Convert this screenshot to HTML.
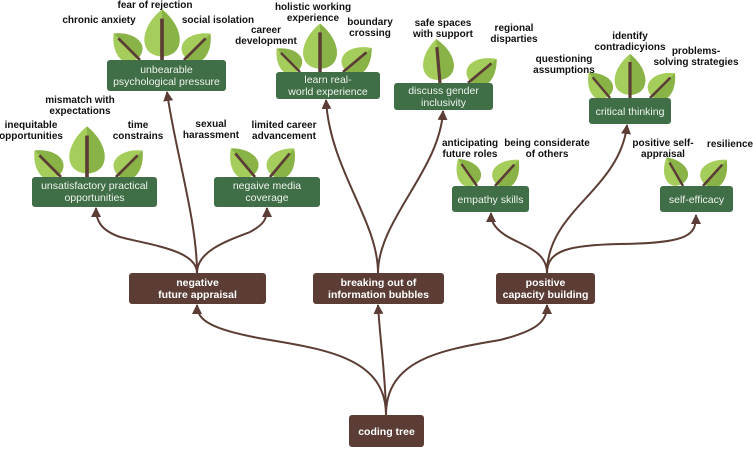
<!DOCTYPE html>
<html><head><meta charset="utf-8"><style>
html,body{margin:0;padding:0;background:#fff;}
svg{display:block;font-family:"Liberation Sans",sans-serif;}
.lb{font-size:10px;font-weight:bold;fill:#111;text-anchor:middle;}
.gt{font-size:10.5px;fill:#eef4ee;text-anchor:middle;}
.bt{font-size:10.5px;font-weight:bold;fill:#fff;text-anchor:middle;}
.c{fill:none;stroke:#5b3d35;stroke-width:2;}
</style></head><body>
<svg width="753" height="449" viewBox="0 0 753 449">
<defs>
<marker id="a" viewBox="0 0 10 10" refX="9" refY="5" markerWidth="5" markerHeight="5" orient="auto"><path d="M0,0 L10,5 L0,10 z" fill="#5b3d35"/></marker>
<g id="leaf">
<path d="M0,-3 C-21,-4 -20,-28 0,-44 C20,-28 21,-4 0,-3Z" fill="#a5cd5c"/>
<path d="M0,-3 C21,-4 20,-28 0,-44Z" fill="#8ab347"/>
<line x1="0" y1="0" x2="0" y2="-36" stroke="#5b3d35" stroke-width="3.2"/>
</g>
</defs>

<path class="c" marker-end="url(#a)" d="M386,415 C386,360 330,350 270,340 C210,330 197,320 197,305"/>
<path class="c" marker-end="url(#a)" d="M386,415 C386,380 380,340 378,305"/>
<path class="c" marker-end="url(#a)" d="M386,415 C386,360 440,350 500,340 C540,330 547,320 547,305"/>

<path class="c" marker-end="url(#a)" d="M197,273 C197,250 150,245 120,237 C100,230 96,220 96,208"/>
<path class="c" marker-end="url(#a)" d="M197,273 C197,250 230,240 250,232 C265,224 267,218 267,208"/>
<path class="c" marker-end="url(#a)" d="M197,273 C197,220 175,150 167,92"/>

<path class="c" marker-end="url(#a)" d="M378,273 C378,220 330,170 326,100"/>
<path class="c" marker-end="url(#a)" d="M378,273 C378,220 440,170 443,111"/>

<path class="c" marker-end="url(#a)" d="M547,273 C547,250 520,245 505,235 C493,227 491,220 491,213"/>
<path class="c" marker-end="url(#a)" d="M547,273 C547,210 620,190 627,125"/>
<path class="c" marker-end="url(#a)" d="M547,273 C547,250 570,245 620,244 C690,243 696,235 696,215"/>

<g transform="translate(140,60) rotate(-45) scale(0.85)"><use href="#leaf"/></g>
<g transform="translate(162,60) scale(1.15)"><use href="#leaf"/></g>
<g transform="translate(184,60) rotate(45) scale(0.85)"><use href="#leaf"/></g>

<g transform="translate(300,72) rotate(-45) scale(0.75)"><use href="#leaf"/></g>
<g transform="translate(320,72) scale(1.1)"><use href="#leaf"/></g>
<g transform="translate(343,72) rotate(50) scale(0.85)"><use href="#leaf"/></g>

<g transform="translate(61,177) rotate(-45) scale(0.85)"><use href="#leaf"/></g>
<g transform="translate(87,177) scale(1.15)"><use href="#leaf"/></g>
<g transform="translate(116,177) rotate(45) scale(0.85)"><use href="#leaf"/></g>

<g transform="translate(255,177) rotate(-40) scale(0.85)"><use href="#leaf"/></g>
<g transform="translate(270,177) rotate(40) scale(0.85)"><use href="#leaf"/></g>

<g transform="translate(440,83) rotate(-5) scale(1.0)"><use href="#leaf"/></g>
<g transform="translate(468,83) rotate(50) scale(0.85)"><use href="#leaf"/></g>

<g transform="translate(610,98) rotate(-40) scale(0.75)"><use href="#leaf"/></g>
<g transform="translate(630,98) scale(1.0)"><use href="#leaf"/></g>
<g transform="translate(650,98) rotate(45) scale(0.8)"><use href="#leaf"/></g>

<g transform="translate(477,186) rotate(-35) scale(0.75)"><use href="#leaf"/></g>
<g transform="translate(495,186) rotate(42) scale(0.8)"><use href="#leaf"/></g>

<g transform="translate(683,186) rotate(-30) scale(0.75)"><use href="#leaf"/></g>
<g transform="translate(703,186) rotate(42) scale(0.8)"><use href="#leaf"/></g>

<rect x="107" y="60" width="119" height="31" rx="3" fill="#3f6e47"/>
<text class="gt" x="166.5" y="73">unbearable</text><text class="gt" x="166.5" y="85">psychological pressure</text>
<rect x="276" y="72" width="104" height="27" rx="3" fill="#3f6e47"/>
<text class="gt" x="328" y="83">learn real-</text><text class="gt" x="328" y="95">world experience</text>
<rect x="32" y="177" width="125" height="30" rx="3" fill="#3f6e47"/>
<text class="gt" x="94.5" y="189">unsatisfactory practical</text><text class="gt" x="94.5" y="201">opportunities</text>
<rect x="214" y="177" width="106" height="30" rx="3" fill="#3f6e47"/>
<text class="gt" x="267" y="189">negaive media</text><text class="gt" x="267" y="201">coverage</text>
<rect x="394" y="83" width="99" height="27" rx="3" fill="#3f6e47"/>
<text class="gt" x="443.5" y="94">discuss gender</text><text class="gt" x="443.5" y="106">inclusivity</text>
<rect x="589" y="98" width="82" height="26" rx="3" fill="#3f6e47"/>
<text class="gt" x="630" y="115">critical thinking</text>
<rect x="452" y="186" width="77" height="26" rx="3" fill="#3f6e47"/>
<text class="gt" x="490.5" y="203">empathy skills</text>
<rect x="660" y="186" width="73" height="26" rx="3" fill="#3f6e47"/>
<text class="gt" x="696.5" y="203">self-efficacy</text>

<rect x="129" y="273" width="137" height="31" rx="3" fill="#5b3d35"/>
<text class="bt" x="197.5" y="286">negative</text><text class="bt" x="197.5" y="298">future appraisal</text>
<rect x="313" y="273" width="131" height="31" rx="3" fill="#5b3d35"/>
<text class="bt" x="378.5" y="286">breaking out of</text><text class="bt" x="378.5" y="298">information bubbles</text>
<rect x="496" y="273" width="99" height="31" rx="3" fill="#5b3d35"/>
<text class="bt" x="545.5" y="286">positive</text><text class="bt" x="545.5" y="298">capacity building</text>
<rect x="349" y="415" width="75" height="32" rx="3" fill="#5b3d35"/>
<text class="bt" x="386.5" y="435">coding tree</text>

<text class="lb" x="155" y="8">fear of rejection</text>
<text class="lb" x="99" y="23">chronic anxiety</text>
<text class="lb" x="218" y="23">social isolation</text>
<text class="lb" x="313" y="10">holistic working</text><text class="lb" x="313" y="21">experience</text>
<text class="lb" x="266" y="33">career</text><text class="lb" x="266" y="44">development</text>
<text class="lb" x="370" y="25">boundary</text><text class="lb" x="370" y="36">crossing</text>
<text class="lb" x="80" y="103">mismatch with</text><text class="lb" x="80" y="114">expectations</text>
<text class="lb" x="31" y="128">inequitable</text><text class="lb" x="31" y="139">opportunities</text>
<text class="lb" x="138" y="128">time</text><text class="lb" x="138" y="139">constrains</text>
<text class="lb" x="211" y="127">sexual</text><text class="lb" x="211" y="138">harassment</text>
<text class="lb" x="284" y="128">limited career</text><text class="lb" x="284" y="139">advancement</text>
<text class="lb" x="443" y="26">safe spaces</text><text class="lb" x="443" y="37">with support</text>
<text class="lb" x="514" y="31">regional</text><text class="lb" x="514" y="42">disparties</text>
<text class="lb" x="630" y="39">identify</text><text class="lb" x="630" y="50">contradicyions</text>
<text class="lb" x="564" y="62">questioning</text><text class="lb" x="564" y="73">assumptions</text>
<text class="lb" x="696" y="54">problems-</text><text class="lb" x="696" y="65">solving strategies</text>
<text class="lb" x="470" y="146">anticipating</text><text class="lb" x="470" y="157">future roles</text>
<text class="lb" x="547" y="146">being considerate</text><text class="lb" x="547" y="157">of others</text>
<text class="lb" x="663" y="146">positive self-</text><text class="lb" x="663" y="157">appraisal</text>
<text class="lb" x="730" y="147">resilience</text>
</svg>
</body></html>
